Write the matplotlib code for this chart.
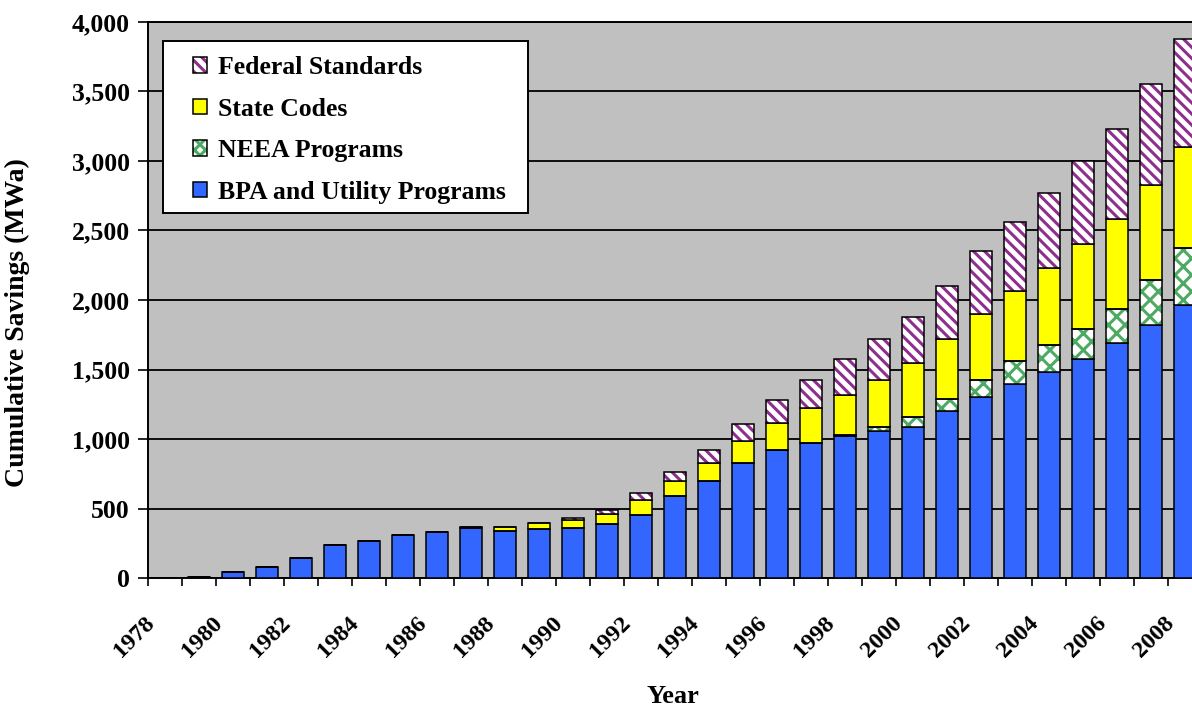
import matplotlib
matplotlib.use("Agg")
import matplotlib.pyplot as plt
import matplotlib.transforms as mtransforms
from matplotlib.patches import Patch, Rectangle
import numpy as np

years = list(range(1978, 2009))
bpa = [0, 10, 40, 79, 144, 240, 263, 306, 331, 358, 340, 352, 360, 391, 455, 587,
       695, 827, 918, 971, 1025, 1057, 1084, 1201, 1305, 1397, 1480, 1572, 1689, 1820, 1963]
neea = [0, 0, 0, 0, 0, 0, 0, 0, 0, 0, 0, 0, 0, 0, 0, 0,
        0, 0, 0, 0, 5, 32, 73, 84, 118, 162, 196, 222, 248, 321, 408]
state = [0, 0, 0, 0, 0, 0, 0, 0, 0, 12, 24, 42, 55, 69, 108, 108,
         132, 156, 197, 252, 289, 339, 391, 433, 475, 504, 556, 608, 648, 684, 728]
federal = [0, 0, 0, 0, 0, 0, 0, 0, 0, 0, 0, 0, 15, 31, 48, 68,
           96, 125, 163, 204, 255, 290, 332, 384, 457, 501, 541, 598, 647, 726, 778]
labels = ["BPA and Utility Programs", "NEEA Programs", "State Codes", "Federal Standards"]
yticks = [0, 500, 1000, 1500, 2000, 2500, 3000, 3500, 4000]

plt.rcParams['font.family'] = ['Liberation Serif', 'DejaVu Serif']
plt.rcParams['font.weight'] = 'bold'
plt.rcParams['hatch.linewidth'] = 2.2

fig = plt.figure(figsize=(11.92, 7.06), dpi=100)
ax = fig.add_axes([148/1192, (706-578)/706, 1054/1192, 556/706])
ax.set_facecolor('#C0C0C0')

x = np.arange(len(years))
w = 0.65
bpa_a = np.array(bpa, float)
neea_a = np.array(neea, float)
state_a = np.array(state, float)
fed_a = np.array(federal, float)

ec = 'black'
lw = 1.1
blue = '#3366FF'
yellow = '#FFFF00'
purple = '#8E2F8E'
green = '#4DAA62'

ax.bar(x, bpa_a, w, color=blue, edgecolor=ec, linewidth=lw, zorder=3)
b1 = bpa_a
ax.bar(x, neea_a, w, bottom=b1, facecolor='white', edgecolor=green, hatch='xx', linewidth=0, zorder=3)
ax.bar(x, neea_a, w, bottom=b1, fill=False, edgecolor=ec, linewidth=lw, zorder=4)
b2 = b1 + neea_a
ax.bar(x, state_a, w, bottom=b2, color=yellow, edgecolor=ec, linewidth=lw, zorder=3)
b3 = b2 + state_a
ax.bar(x, fed_a, w, bottom=b3, facecolor='white', edgecolor=purple, hatch='\\\\\\', linewidth=0, zorder=3)
ax.bar(x, fed_a, w, bottom=b3, fill=False, edgecolor=ec, linewidth=lw, zorder=4)

ax.set_xlim(-0.5, len(years) - 0.5)
ax.set_ylim(0, 4000)
ax.set_yticks(yticks)
ax.set_yticklabels([f"{v:,}" for v in yticks])
ax.yaxis.grid(True, color='black', linewidth=1.3, zorder=1)
ax.set_axisbelow(True)

ax.set_xticks(np.arange(-0.5, len(years), 1.0))
ax.set_xticklabels([])
ax.set_xticks([i for i, y in enumerate(years) if y % 2 == 0], minor=True)
ax.set_xticklabels([str(y) for y in years if y % 2 == 0], minor=True,
                   rotation=45, ha='right', va='center', rotation_mode='anchor')
ax.tick_params(axis='x', which='major', direction='out', length=6, width=1.2, color='black')
ax.tick_params(axis='x', which='minor', length=0, pad=30, labelsize=17.5)
ax.tick_params(axis='y', direction='out', length=7, width=1.2, pad=6, labelsize=18.5)
offset = mtransforms.ScaledTranslation(-14/100, 0, fig.dpi_scale_trans)
for lab in ax.get_xticklabels(minor=True):
    lab.set_transform(lab.get_transform() + offset)

for s in ['left', 'bottom', 'top']:
    ax.spines[s].set_color('black')
    ax.spines[s].set_linewidth(1.4)
ax.spines['right'].set_visible(False)

ax.set_ylabel("Cumulative Savings (MWa)", fontsize=20, fontweight='bold')
ax.yaxis.set_label_coords(-0.112, 0.46)
ax.set_xlabel("Year", fontsize=19, fontweight='bold', va='top')
ax.xaxis.set_label_coords(0.498, -0.193)

# legend frame
frame = Rectangle(((163-148)/1054, (578-213)/556), 365/1054, 172/556,
                  transform=ax.transAxes, facecolor='white', edgecolor='black',
                  linewidth=1.4, zorder=9)
ax.add_patch(frame)

h_fed = (Patch(facecolor='white', edgecolor=purple, hatch='\\\\\\', linewidth=0),
         Patch(fill=False, edgecolor=ec, linewidth=lw))
h_state = Patch(facecolor=yellow, edgecolor=ec, linewidth=lw)
h_neea = (Patch(facecolor='white', edgecolor=green, hatch='xxx', linewidth=0),
          Patch(fill=False, edgecolor=ec, linewidth=lw))
h_bpa = Patch(facecolor=blue, edgecolor=ec, linewidth=lw)
leg = ax.legend([h_fed, h_state, h_neea, h_bpa],
                [labels[3], labels[2], labels[1], labels[0]],
                loc='upper left', bbox_to_anchor=((193-148)/1054, (578-56)/556),
                borderaxespad=0, borderpad=0, frameon=False,
                fontsize=18.5, handlelength=0.55, handleheight=0.55, handletextpad=0.43,
                labelspacing=0.72)
leg.set_zorder(10)

fig.savefig("out.png", dpi=100)
